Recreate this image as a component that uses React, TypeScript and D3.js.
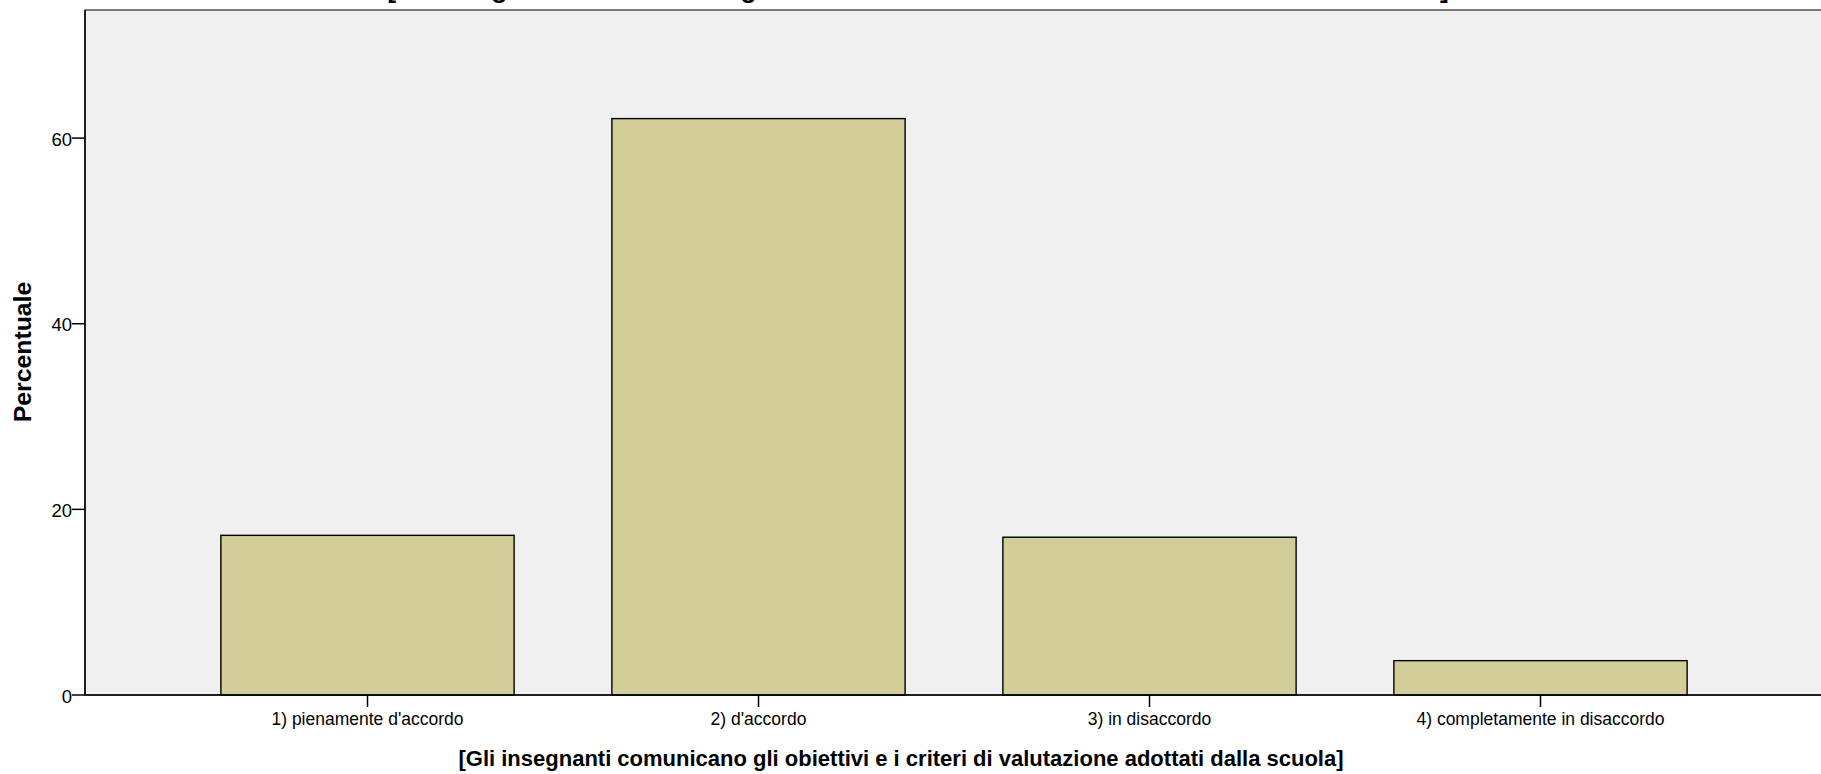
import React from "react";
import * as d3 from "d3";

const categories = [
  "1) pienamente d'accordo",
  "2) d'accordo",
  "3) in disaccordo",
  "4) completamente in disaccordo",
];
const values = [17.2, 62.1, 17.0, 3.7];
const yTicks = [0, 20, 40, 60];
const titleText =
  "[Gli insegnanti comunicano gli obiettivi e i criteri di valutazione adottati dalla scuola]";
const xTitle =
  "[Gli insegnanti comunicano gli obiettivi e i criteri di valutazione adottati dalla scuola]";
const yTitle = "Percentuale";

const W = 1821;
const H = 774;
const plotLeft = 85;
const plotTop = 10;
const plotBottom = 695;
const font = "'Liberation Sans', Arial, Helvetica, sans-serif";

export default function App() {
  const x = d3
    .scaleBand<string>()
    .domain(categories)
    .range([172, 1736])
    .paddingInner(0.25)
    .paddingOuter(0.125);
  const y = d3.scaleLinear().domain([0, 73.8]).range([plotBottom, plotTop]);

  return (
    <svg
      width={W}
      height={H}
      style={{ position: "absolute", left: 0, top: 0, background: "#fff" }}
      fontFamily={font}
    >
      <rect x={0} y={0} width={W} height={H} fill="#fff" />
      <text
        x={918}
        y={-2.5}
        textAnchor="middle"
        fontSize={26.4}
        fontWeight="bold"
        fill="#000"
      >
        {titleText}
      </text>
      <rect
        x={plotLeft}
        y={plotTop}
        width={W - plotLeft + 5}
        height={plotBottom - plotTop}
        fill="#F0F0F0"
        stroke="#000"
        strokeWidth={1}
      />
      {categories.map((c, i) => (
        <rect
          key={c}
          x={x(c)}
          y={y(values[i])}
          width={x.bandwidth()}
          height={y(0) - y(values[i])}
          fill="#D3CE97"
          stroke="#000"
          strokeWidth={1.4}
        />
      ))}
      {/* axes */}
      <line x1={plotLeft} x2={W} y1={plotBottom} y2={plotBottom} stroke="#000" strokeWidth={1.5} />
      <line x1={plotLeft} x2={plotLeft} y1={plotTop} y2={plotBottom} stroke="#000" strokeWidth={1.5} />
      {yTicks.map((t) => (
        <g key={t}>
          <line x1={plotLeft - 13} x2={plotLeft} y1={y(t)} y2={y(t)} stroke="#000" strokeWidth={1.5} />
          <text
            x={plotLeft - 13}
            y={y(t) + 7.5}
            textAnchor="end"
            fontSize={18.5}
            fill="#000"
          >
            {t}
          </text>
        </g>
      ))}
      {categories.map((c) => {
        const cx = (x(c) as number) + x.bandwidth() / 2;
        return (
          <g key={c}>
            <line x1={cx} x2={cx} y1={plotBottom} y2={plotBottom + 12} stroke="#000" strokeWidth={1.5} />
            <text x={cx} y={724.5} textAnchor="middle" fontSize={17.5} fill="#000">
              {c}
            </text>
          </g>
        );
      })}
      <text x={901} y={766} textAnchor="middle" fontSize={22} fontWeight="bold" fill="#000">
        {xTitle}
      </text>
      <text
        transform={`translate(31, 352) rotate(-90)`}
        textAnchor="middle"
        fontSize={24.8}
        fontWeight="bold"
        fill="#000"
      >
        {yTitle}
      </text>
    </svg>
  );
}
